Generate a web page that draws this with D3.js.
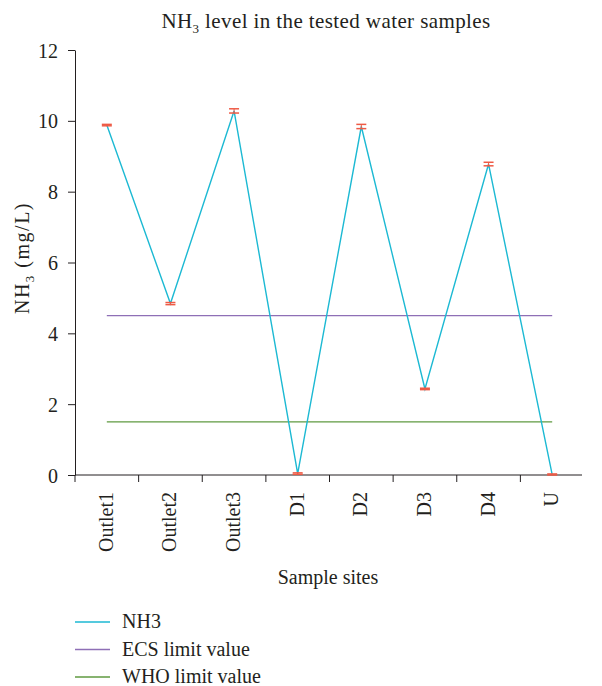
<!DOCTYPE html>
<html><head><meta charset="utf-8">
<script src="https://cdn.jsdelivr.net/npm/d3@7"></script>
<style>body{margin:0;background:#fff}svg text{font-family:"Liberation Serif","DejaVu Serif",serif;fill:#231f20}</style>
</head><body><svg id="c" width="602" height="686"></svg>
<script>
const categories = ["Outlet1","Outlet2","Outlet3","D1","D2","D3","D4","U"];
const nh3 = [9.88, 4.84, 10.28, 0.04, 9.84, 2.43, 8.78, 0.01];
const nh3Err = [0.02, 0.03, 0.06, 0.02, 0.06, 0.02, 0.05, 0.02];
const ecsLimit = 4.5;
const whoLimit = 1.5;
const yTicks = [0,2,4,6,8,10,12];
const legendItems = ["NH3","ECS limit value","WHO limit value"];
const colors = {nh3:"#1cb9d3", ecs:"#8e6fb6", who:"#5f9a41", err:"#ee5a45", axis:"#231f20"};
const FS = "20px";

const svg = d3.select("#c");
const x = d3.scaleBand().domain(categories).range([75, 584]).padding(0);
const y = d3.scaleLinear().domain([0, 12]).range([475, 50]);

// Title
const t = svg.append("text").attr("x", 326).attr("y", 28).attr("text-anchor","middle").style("font-size","21px").style("letter-spacing","0.4px");
t.append("tspan").text("NH");
t.append("tspan").text("3").style("font-size","13px").attr("dy", 5);
t.append("tspan").text(" level in the tested water samples").attr("dy", -5);

// Y axis
const ya = svg.append("g").attr("transform","translate(75,0)")
  .call(d3.axisLeft(y).tickValues(yTicks).tickSize(7).tickSizeOuter(0).tickPadding(10));
ya.select(".domain").attr("stroke", colors.axis);
ya.selectAll(".tick line").attr("stroke", colors.axis);
ya.selectAll("text").style("font-size",FS).style("font-family","Liberation Serif, serif").attr("fill", colors.axis).attr("dy","0.35em");

// X axis
const xa = svg.append("g").attr("transform","translate(0,475)");
xa.append("line").attr("x1",75).attr("x2",582).attr("stroke",colors.axis);
xa.selectAll("line.tk").data(categories).enter().append("line").attr("class","tk")
  .attr("x1", d=>x(d)).attr("x2", d=>x(d)).attr("y1",0).attr("y2",7).attr("stroke",colors.axis);
xa.selectAll("text").data(categories).enter().append("text")
  .attr("transform", d=>`translate(${x(d)+x.bandwidth()/2+6},17) rotate(-90)`)
  .attr("text-anchor","end").style("font-size",FS).text(d=>d);

svg.append("text").attr("x",328).attr("y",584).attr("text-anchor","middle").style("font-size",FS).text("Sample sites");

// Y label
const yl = svg.append("text").attr("transform","translate(29,258) rotate(-90)").attr("text-anchor","middle").style("font-size",FS).style("letter-spacing","1.5px");
yl.append("tspan").text("NH");
yl.append("tspan").text("3").style("font-size","13px").attr("dy",5);
yl.append("tspan").text(" (mg/L)").attr("dy",-5);

const cx = d => x(d) + x.bandwidth()/2;
const x0 = cx(categories[0]), x1 = cx(categories[categories.length-1]);

// Limit lines
svg.append("line").attr("x1",x0).attr("x2",x1).attr("y1",y(ecsLimit)).attr("y2",y(ecsLimit)).attr("stroke",colors.ecs).attr("stroke-width",1.3);
svg.append("line").attr("x1",x0).attr("x2",x1).attr("y1",y(whoLimit)).attr("y2",y(whoLimit)).attr("stroke",colors.who).attr("stroke-width",1.3);

// NH3 line
const pts = categories.map((c,i)=>({c, v:nh3[i], e:nh3Err[i]}));
svg.append("path").datum(pts).attr("fill","none").attr("stroke",colors.nh3).attr("stroke-width",1.4)
  .attr("d", d3.line().x(d=>cx(d.c)).y(d=>y(d.v)));

// Error bars
const eb = svg.append("g").selectAll("g").data(pts).enter().append("g");
eb.append("line").attr("x1",d=>cx(d.c)).attr("x2",d=>cx(d.c)).attr("y1",d=>y(d.v+d.e)).attr("y2",d=>y(Math.max(0,d.v-d.e))).attr("stroke",colors.err).attr("stroke-width",1);
eb.append("line").attr("x1",d=>cx(d.c)-5).attr("x2",d=>cx(d.c)+5).attr("y1",d=>y(d.v+d.e)).attr("y2",d=>y(d.v+d.e)).attr("stroke",colors.err).attr("stroke-width",1.5);
eb.append("line").attr("x1",d=>cx(d.c)-5).attr("x2",d=>cx(d.c)+5).attr("y1",d=>y(Math.max(0,d.v-d.e))).attr("y2",d=>y(Math.max(0,d.v-d.e))).attr("stroke",colors.err).attr("stroke-width",1.5);

// Legend
const lc = [colors.nh3, colors.ecs, colors.who];
const lg = svg.append("g").selectAll("g").data(legendItems).enter().append("g")
  .attr("transform",(d,i)=>`translate(0,${622 + i*27.5})`);
lg.append("line").attr("x1",75).attr("x2",110).attr("y1",0).attr("y2",0).attr("stroke",(d,i)=>lc[i]).attr("stroke-width",1.5);
lg.append("text").attr("x",122).attr("y",6).style("font-size",FS).text(d=>d);
</script></body></html>
